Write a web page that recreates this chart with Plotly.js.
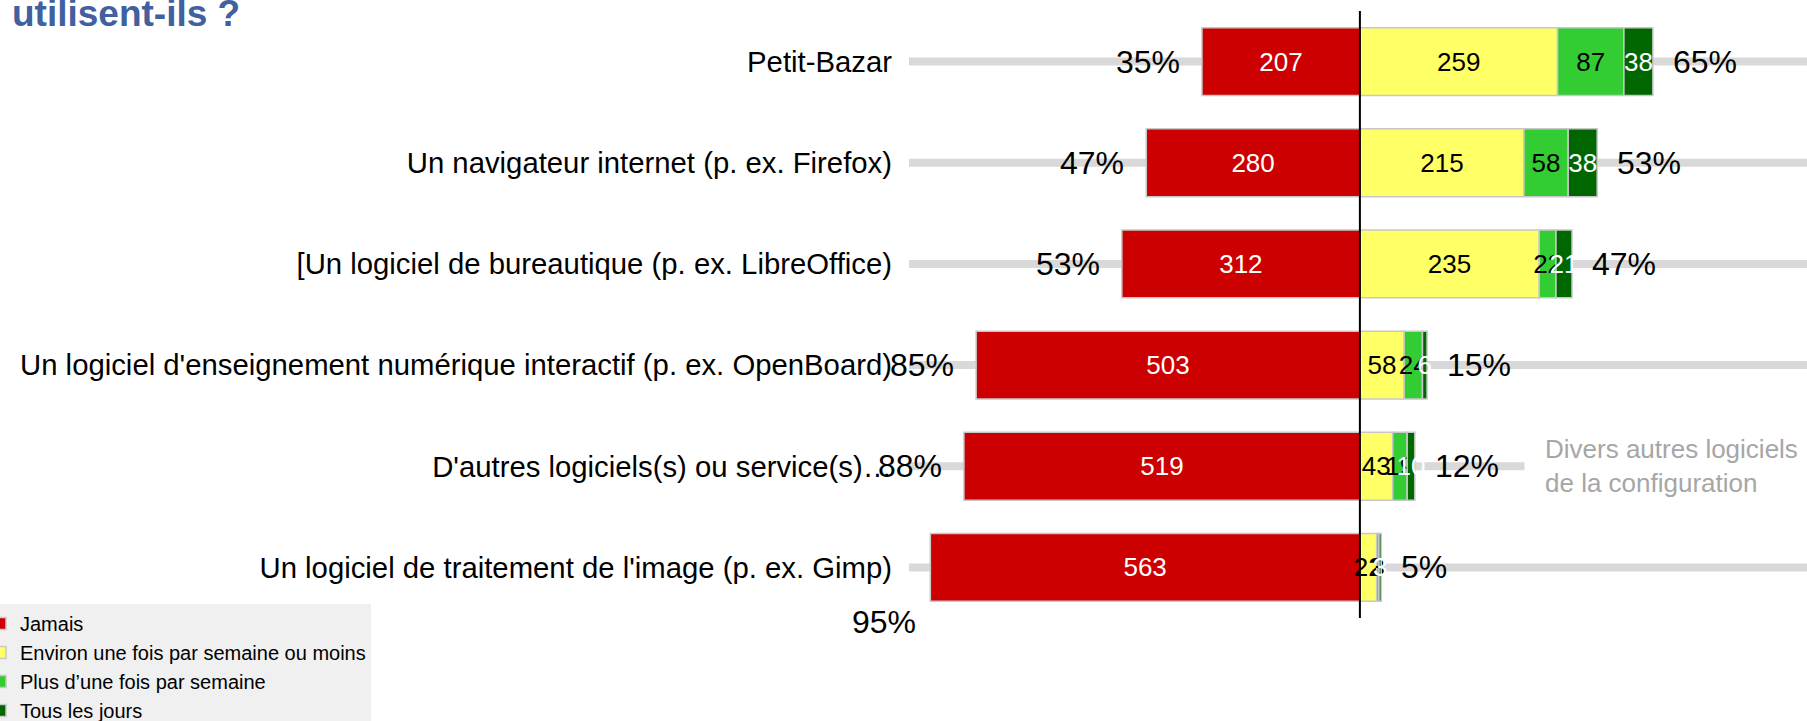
<!DOCTYPE html>
<html>
<head>
<meta charset="utf-8">
<script src="https://cdn.plot.ly/plotly-3.0.1.min.js"></script>
<style>
  html, body { margin: 0; padding: 0; background: #fff; }
  #chart { width: 1807px; height: 721px; }
</style>
</head>
<body>
<div id="chart"></div>
<script>
// categories, top to bottom
var categories = [
  "Petit-Bazar",
  "Un navigateur internet (p. ex. Firefox)",
  "[Un logiciel de bureautique (p. ex. LibreOffice)",
  "Un logiciel d'enseignement numérique interactif (p. ex. OpenBoard)",
  "D'autres logiciels(s) ou service(s)…",
  "Un logiciel de traitement de l'image (p. ex. Gimp)"
];
var seriesNames = ["Jamais", "Environ une fois par semaine ou moins", "Plus d’une fois par semaine", "Tous les jours"];
var jamais    = [207, 280, 312, 503, 519, 563];
var environ   = [259, 215, 235, 58, 43, 22];
var plusUne   = [87, 58, 22, 24, 19, 3];
var tousJours = [38, 38, 21, 6, 10, 3];
var noteCategory = "D'autres logiciels(s) ou service(s)…";
var noteText = "Divers autres logiciels<br>de la configuration";

var font = "Liberation Sans, Arial, sans-serif";
var border = { color: "#c8c8c8", width: 1.5 };

function barTrace(name, values, color, textColor, negative) {
  return {
    type: "bar",
    orientation: "h",
    name: name,
    y: categories,
    x: values.map(v => negative ? -v : v),
    text: values,
    texttemplate: "%{text}",
    textposition: "inside",
    insidetextanchor: "middle",
    constraintext: "none",
    textangle: 0,
    textfont: { size: 26, color: textColor, family: font },
    marker: { color: color, line: border },
    hoverinfo: "skip"
  };
}

var data = [
  barTrace(seriesNames[0], jamais, "#cc0000", "#ffffff", true),
  barTrace(seriesNames[1], environ, "#ffff66", "#000000", false),
  barTrace(seriesNames[2], plusUne, "#33cc33", "#000000", false),
  barTrace(seriesNames[3], tousJours, "#006600", "#ffffff", false)
];

// grey guide line behind each row
var shapes = categories.map(cat => ({
  type: "line", xref: "paper", x0: 0, x1: 1, yref: "y", y0: cat, y1: cat,
  line: { color: "#d9d9d9", width: 8 }, layer: "below"
}));
// zero line
shapes.push({
  type: "line", xref: "x", x0: 0, x1: 0, yref: "paper", y0: 0, y1: 1,
  line: { color: "#000000", width: 2 }, layer: "above"
});

var maxTotal = 0;
categories.forEach((c, i) => {
  maxTotal = Math.max(maxTotal, jamais[i] + environ[i] + plusUne[i] + tousJours[i]);
});

var annotations = [];
categories.forEach(function(cat, i) {
  var total = jamais[i] + environ[i] + plusUne[i] + tousJours[i];
  var pos = total - jamais[i];
  var low = jamais[i] > 0.9 * maxTotal; // no room left of the bar: put it under
  annotations.push({
    x: -jamais[i], y: cat, text: Math.round(100 * jamais[i] / total) + "%",
    xanchor: "right", xshift: low ? -12 : -20, yshift: low ? -55 : 0,
    showarrow: false, font: { size: 32, color: "#000", family: font }
  });
  annotations.push({
    x: pos, y: cat, text: Math.round(100 * pos / total) + "%",
    xanchor: "left", xshift: 18,
    showarrow: false, font: { size: 32, color: "#000", family: font }
  });
});
annotations.push({
  xref: "paper", x: 0.685, y: noteCategory, text: noteText,
  xanchor: "left", yanchor: "middle", align: "left",
  bgcolor: "#ffffff", borderpad: 20, showarrow: false,
  font: { size: 26, color: "#a6a6a6", family: font }
});

var layout = {
  width: 1807,
  height: 721,
  paper_bgcolor: "#ffffff",
  plot_bgcolor: "#ffffff",
  font: { family: font, color: "#000" },
  title: {
    text: "<b>utilisent-ils ?</b>",
    xref: "container", x: 12 / 1807, xanchor: "left",
    yref: "container", y: 0.982, yanchor: "middle",
    font: { size: 37, color: "#40609f", family: font }
  },
  barmode: "relative",
  bargap: 0.33,
  margin: { l: 909, r: 0, t: 11, b: 103, autoexpand: false },
  xaxis: {
    range: [-591, 586], showgrid: false, zeroline: false,
    showticklabels: false, ticks: "", fixedrange: true
  },
  yaxis: {
    type: "category", autorange: "reversed", showgrid: false, zeroline: false,
    ticks: "", ticklabelstandoff: 16, automargin: false,
    tickfont: { size: 29.3, color: "#000", family: font }
  },
  showlegend: true,
  legend: {
    xref: "paper", yref: "paper",
    x: (-20 - 909) / 898, xanchor: "left",
    y: (618 - 604) / 607, yanchor: "top",
    traceorder: "normal", bgcolor: "#f0f0f0",
    font: { size: 20, color: "#000", family: font }
  },
  shapes: shapes,
  annotations: annotations
};

Plotly.newPlot("chart", data, layout, { displayModeBar: false, staticPlot: true });
</script>
</body>
</html>
